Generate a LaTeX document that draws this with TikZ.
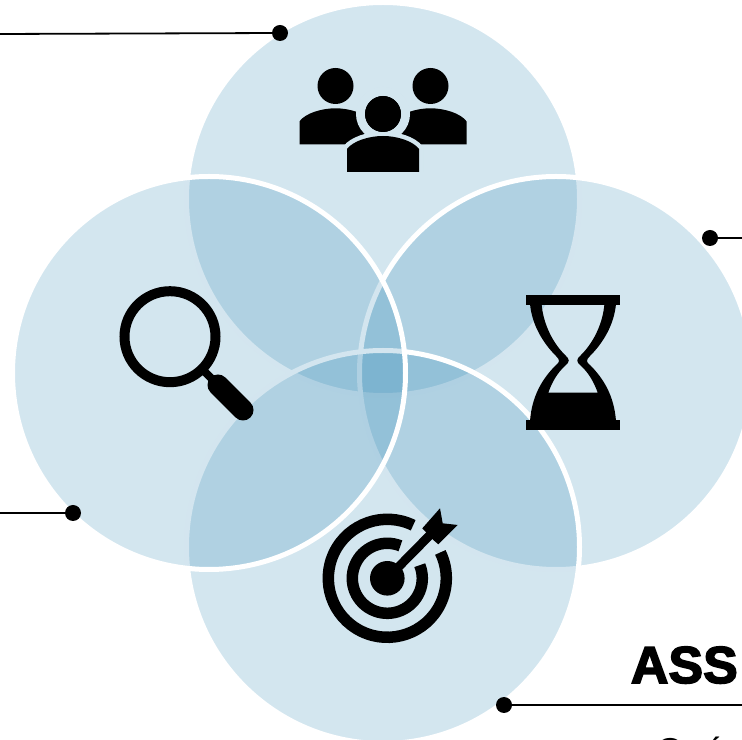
\documentclass[tikz,border=0pt]{standalone}
\usepackage{fontspec}
\setmainfont{Liberation Sans}[BoldFeatures={FakeBold=3}]
\usepackage{tikz}
\definecolor{petal}{RGB}{35,128,175}
\definecolor{petalpale}{RGB}{211,230,239}
\newcommand{\personbody}[2]{(#1bp-36bp,#2bp) -- (#1bp-36bp,#2bp+23bp) .. controls (#1bp-30bp,#2bp+31bp) and (#1bp-14bp,#2bp+36bp) .. (#1bp,#2bp+36bp) .. controls (#1bp+14bp,#2bp+36bp) and (#1bp+30bp,#2bp+31bp) .. (#1bp+36bp,#2bp+23bp) -- (#1bp+36bp,#2bp) -- cycle}

\begin{document}
\begin{tikzpicture}[>=latex]
      \tikzstyle{petalnode}=[circle,draw=white,line width=5bp,fill=petal,fill opacity=.2,minimum size=393bp,inner sep=0pt]
      \tikzstyle{leadline}=[line width=1.8bp,black]
      \tikzstyle{leaddot}=[circle,fill=black,minimum size=16bp,inner sep=0pt]
      \tikzstyle{halo}=[draw=petalpale,fill=black,line width=9bp]
      %%
  \useasboundingbox (0bp,0bp) rectangle (742bp,740bp);
  \clip (0bp,0bp) rectangle (742bp,740bp);
  \node (petal_top) at (383bp,541bp) [petalnode] {};
  \node (petal_right) at (556bp,367bp) [petalnode] {};
  \node (petal_bottom) at (383bp,193bp) [petalnode] {};
  \node (petal_left) at (209bp,367bp) [petalnode] {};
  %% leaders
  \node (dot_top) at (280bp,707bp) [leaddot] {};
  \node (dot_right) at (710bp,502bp) [leaddot] {};
  \node (dot_left) at (73bp,227bp) [leaddot] {};
  \node (dot_bottom) at (504bp,35bp) [leaddot] {};
  \coordinate (end_top) at (0bp,706bp);
  \coordinate (end_right) at (742bp,502bp);
  \coordinate (end_left) at (0bp,227bp);
  \coordinate (end_bottom) at (742bp,35bp);
  \draw [leadline] (end_top) -- (dot_top);
  \draw [leadline] (dot_right) -- (end_right);
  \draw [leadline] (end_left) -- (dot_left);
  \draw [leadline] (dot_bottom) -- (end_bottom);
  %% people
  \fill (335.5bp,654bp) circle (18bp);
  \fill (430.5bp,654bp) circle (18bp);
  \fill \personbody{335.5}{595.7};
  \fill \personbody{430.5}{595.7};
  \draw [halo] \personbody{383}{568};
  \draw [halo] (383bp,626bp) circle (22.5bp);
  \fill (383bp,626bp) circle (18bp);
  \fill \personbody{383}{568};
  \fill [petalpale] (330bp,560bp) rectangle (436bp,568bp);
  %% glass
  \draw [line width=10bp] (170bp,403.3bp) circle (45.5bp);
  \draw [line width=8bp] (205bp,368bp) -- (220bp,353bp);
  \draw [line width=21bp,line cap=round] (218bp,355bp) -- (243bp,330bp);
  %% hourglass
  \fill (526bp,435bp) rectangle (620bp,445bp);
  \fill (526bp,310bp) rectangle (620bp,320bp);
  \fill [even odd rule] (530bp,436bp) .. controls (532bp,415bp) and (543bp,397bp) .. (556bp,384bp) .. controls (560bp,380bp) and (560bp,378bp) .. (556bp,375bp) .. controls (543bp,362bp) and (532bp,345bp) .. (530bp,319bp) -- (616bp,319bp) .. controls (614bp,345bp) and (603bp,362bp) .. (590bp,375bp) .. controls (586bp,378bp) and (586bp,380bp) .. (590bp,384bp) .. controls (603bp,397bp) and (614bp,415bp) .. (616bp,436bp) -- cycle
    (541.7bp,435bp) .. controls (543bp,420bp) and (550bp,400bp) .. (565bp,385bp) .. controls (570bp,381bp) and (570bp,378bp) .. (565bp,374bp) .. controls (558bp,368bp) and (552bp,358bp) .. (548.3bp,347.3bp) -- (597.7bp,347.3bp) .. controls (594bp,358bp) and (588bp,368bp) .. (581bp,374bp) .. controls (576bp,378bp) and (576bp,381bp) .. (581bp,385bp) .. controls (596bp,400bp) and (603bp,420bp) .. (604.3bp,435bp) -- cycle;
  %% target
  \draw [line width=11.5bp] (387.3bp,161.7bp) ++(64:59bp) arc (64:386:59bp);
  \draw [line width=11.5bp] (387.3bp,161.7bp) ++(68:35bp) arc (68:382:35bp);
  \fill (387.3bp,161.7bp) circle (17.3bp);
  \draw [line width=9bp] (387.3bp,161.7bp) -- (430bp,205bp);
  \fill (440bp,231.7bp) -- (442.7bp,216.7bp) -- (457.7bp,215bp) -- (438.3bp,195.7bp) -- (433.3bp,200bp) -- (422.3bp,211.7bp) -- cycle;
  %% texts
  \node (title) at (738bp,57bp) [anchor=base east,font=\fontsize{52bp}{52bp}\selectfont\bfseries,inner sep=0pt] {ASS};
  \node (subtitle) at (656bp,-23bp) [anchor=base west,font=\fontsize{36bp}{36bp}\selectfont,inner sep=0pt] {Qué};
\end{tikzpicture}
\end{document}
